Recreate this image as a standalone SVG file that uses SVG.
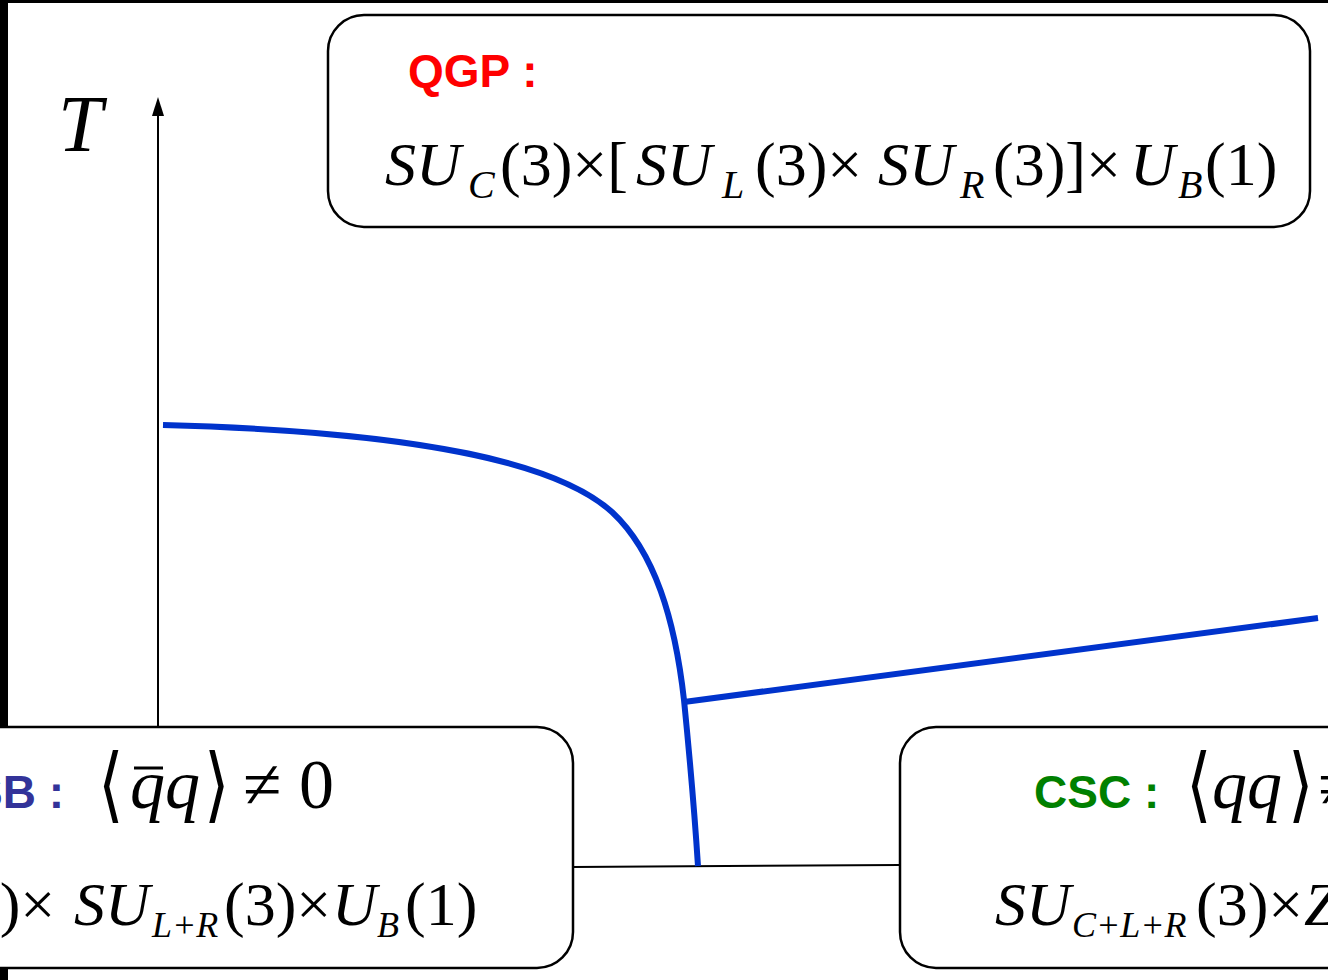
<svg xmlns="http://www.w3.org/2000/svg" width="1328" height="980" viewBox="0 0 1328 980">
<style>
.box{fill:#fff;stroke:#000;stroke-width:2.5}
.m{font-family:"Liberation Serif","Times New Roman",serif;font-style:italic;fill:#000}
.u{font-family:"Liberation Serif","Times New Roman",serif;font-style:normal;fill:#000}
.lbl{font-family:"Liberation Sans",Arial,sans-serif;font-weight:bold;font-size:46px}
.br{font-family:"DejaVu Sans",sans-serif;fill:#000}
.curve{fill:none;stroke:#0033cc;stroke-width:6}
</style>
<rect x="0" y="0" width="1328" height="980" fill="#fff"/>
<rect x="0" y="0" width="8" height="980" fill="#000"/>
<rect x="0" y="0" width="1328" height="3" fill="#000"/>

<g id="axis">
<line x1="158" y1="727" x2="158" y2="112" stroke="#000" stroke-width="2"/>
<polygon points="158,97 152,116 164,116" fill="#000"/>
<text class="m" x="58" y="151" font-size="80">T</text>
</g>

<g id="connectors">
<line x1="573" y1="867" x2="900" y2="865" stroke="#000" stroke-width="2"/>
<path class="curve" d="M163,425 C430,432 560,465 612,512 C655,552 675,620 684,700 C690,760 695,820 698,866"/>
<path class="curve" d="M684,702 L1318,618"/>
</g>

<g id="qgp">
<rect class="box" x="328" y="15" width="982" height="212" rx="36"/>
<text class="lbl" x="408" y="87" fill="#ff0000">QGP :</text>
<text font-size="62" y="185">
<tspan class="m" x="385">SU</tspan><tspan class="m" x="468" y="198" font-size="40">C</tspan><tspan class="u" x="500" y="185">(3)×[</tspan><tspan class="m" x="636">SU</tspan><tspan class="m" x="722" y="198" font-size="40">L</tspan><tspan class="u" x="755" y="185">(3)×</tspan><tspan class="m" x="878">SU</tspan><tspan class="m" x="960" y="198" font-size="40">R</tspan><tspan class="u" x="993" y="185">(3)]×</tspan><tspan class="m" x="1130">U</tspan><tspan class="m" x="1178" y="198" font-size="40">B</tspan><tspan class="u" x="1205" y="185">(1)</tspan>
</text>
</g>

<g id="chsb">
<rect class="box" x="-40" y="727" width="613" height="241" rx="36"/>
<text class="lbl" x="64" y="808" fill="#333399" text-anchor="end">χSB :</text>
<text class="br" x="98" y="812" font-size="82" transform="translate(98,0) scale(0.8,1) translate(-98,0)">⟨</text>
<text class="m" x="130" y="808" font-size="70">qq</text>
<line x1="134" y1="768" x2="163" y2="768" stroke="#000" stroke-width="3"/>
<text class="br" x="204" y="812" font-size="82" transform="translate(204,0) scale(0.8,1) translate(-204,0)">⟩</text>
<text class="u" x="243" y="808" font-size="70">≠ 0</text>
<text font-size="62" y="925">
<tspan class="u" x="-52">(3)×</tspan><tspan class="m" x="74">SU</tspan><tspan class="m" x="152" y="937" font-size="36">L+R</tspan><tspan class="u" x="224" y="925">(3)×</tspan><tspan class="m" x="332">U</tspan><tspan class="m" x="377" y="937" font-size="36">B</tspan><tspan class="u" x="405" y="925">(1)</tspan>
</text>
</g>

<g id="csc">
<rect class="box" x="900" y="727" width="470" height="241" rx="36"/>
<text class="lbl" x="1034" y="808" fill="#008000">CSC :</text>
<text class="br" x="1186" y="812" font-size="82" transform="translate(1186,0) scale(0.8,1) translate(-1186,0)">⟨</text>
<text class="m" x="1212" y="808" font-size="70">qq</text>
<text class="br" x="1288" y="812" font-size="82" transform="translate(1288,0) scale(0.8,1) translate(-1288,0)">⟩</text>
<text class="u" x="1318" y="808" font-size="70">≠ 0</text>
<text font-size="62" y="925">
<tspan class="m" x="995">SU</tspan><tspan class="m" x="1072" y="937" font-size="36">C+L+R</tspan><tspan class="u" x="1196" y="925">(3)×</tspan><tspan class="m" x="1304">Z</tspan>
</text>
</g>
</svg>
